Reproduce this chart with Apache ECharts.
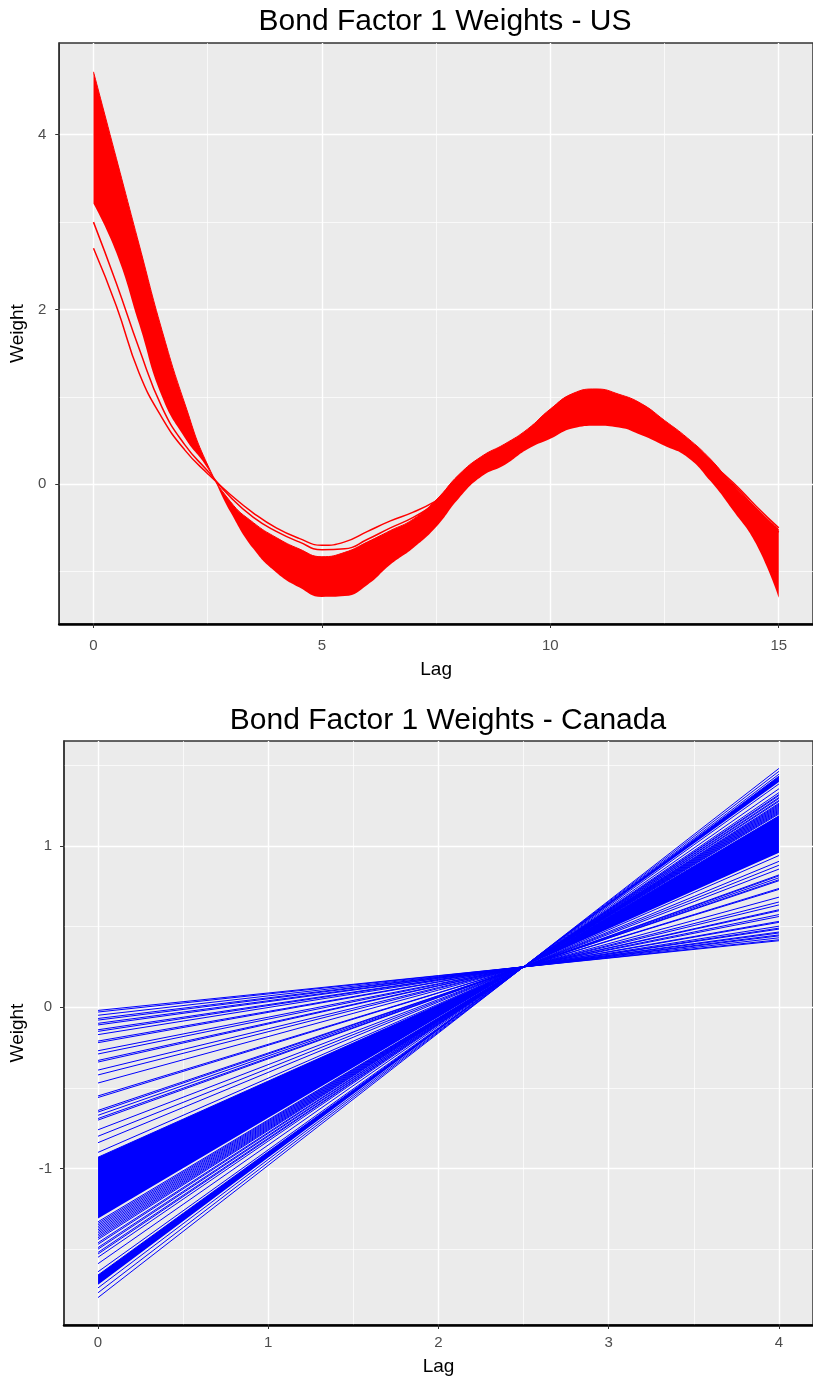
<!DOCTYPE html>
<html>
<head>
<meta charset="utf-8">
<script src="https://cdn.jsdelivr.net/npm/echarts@6/dist/echarts.min.js"></script>
<style>
html, body { margin: 0; padding: 0; background: #fff; }
#chart { width: 813px; height: 1378px; }
</style>
</head>
<body>
<div id="chart"></div>
<script>
// ---- US panel, weights every half lag ----
var usLags = [0, 0.5, 1, 1.5, 2, 2.5, 3, 3.5, 4, 4.5, 5, 5.5, 6, 6.5, 7, 7.5,
              8, 8.5, 9, 9.5, 10, 10.5, 11, 11.5, 12, 12.5, 13, 13.5, 14, 14.5, 15];
// edges of the dense red bundle
var usBandUpper = [4.72, 3.73, 2.74, 1.76, 0.92, 0.22, -0.20, -0.44, -0.61, -0.74, -0.83, -0.78, -0.66, -0.53, -0.40, -0.18,
                   0.11, 0.32, 0.46, 0.63, 0.86, 1.04, 1.09, 1.03, 0.92, 0.73, 0.53, 0.29, -0.01, -0.27, -0.52];
var usBandLower = [3.21, 2.65, 1.83, 1.00, 0.53, 0.18, -0.32, -0.74, -1.01, -1.18, -1.29, -1.28, -1.15, -0.92, -0.73, -0.49,
                   -0.16, 0.09, 0.22, 0.40, 0.52, 0.64, 0.67, 0.65, 0.56, 0.44, 0.31, 0.04, -0.30, -0.68, -1.30];
// the two curves that stand apart from the bundle
var usLineA = [2.70, 2.04, 1.27, 0.76, 0.39, 0.12, -0.12, -0.33, -0.50, -0.62, -0.70, -0.66, -0.54, -0.42, -0.32, -0.19,
               -0.02, 0.18, 0.32, 0.47, 0.60, 0.70, 0.77, 0.76, 0.68, 0.55, 0.42, 0.24, 0.02, -0.25, -0.50];
var usLineB = [3.00, 2.30, 1.55, 0.88, 0.45, 0.15, -0.15, -0.38, -0.54, -0.66, -0.75, -0.74, -0.63, -0.50, -0.38, -0.22,
               -0.05, 0.15, 0.30, 0.45, 0.57, 0.68, 0.74, 0.73, 0.66, 0.53, 0.40, 0.22, 0.00, -0.28, -0.55];
var usXTicks = [0, 5, 10, 15];
var usXMinor = [2.5, 7.5, 12.5];
var usYTicks = [0, 2, 4];
var usYMinor = [-1, 1, 3];

// ---- Canada panel, straight lines from lag 0 to lag 4 ----
var caLineStart = [-0.02, -0.03, -0.05, -0.07, -0.08, -0.10, -0.11, -0.14, -0.15, -0.17, -0.21, -0.22, -0.27, -0.29, -0.33,
                   -0.34, -0.39, -0.42, -0.47, -0.55, -0.56, -0.64, -0.65, -0.67, -0.69, -0.70, -0.76, -0.80, -0.84, -0.90,
                   -1.33, -1.34, -1.35, -1.36, -1.37, -1.38, -1.39, -1.40, -1.41, -1.42, -1.43, -1.44, -1.46, -1.47,
                   -1.49, -1.50, -1.52, -1.53, -1.55, -1.59, -1.64, -1.74, -1.77, -1.80];
var caLineEnd = [0.412, 0.418, 0.430, 0.442, 0.448, 0.460, 0.466, 0.484, 0.490, 0.502, 0.526, 0.532, 0.562, 0.574, 0.598,
                 0.604, 0.634, 0.652, 0.682, 0.730, 0.736, 0.784, 0.790, 0.802, 0.814, 0.820, 0.856, 0.880, 0.904, 0.940,
                 1.198, 1.204, 1.210, 1.216, 1.222, 1.228, 1.234, 1.240, 1.246, 1.252, 1.258, 1.264, 1.276, 1.282,
                 1.294, 1.300, 1.312, 1.318, 1.330, 1.354, 1.384, 1.444, 1.462, 1.480];
// solid blue bundles (edges at lag 0, the crossing and lag 4)
var caBandLags = [0, 2.5, 4];
var caBandALower = [-1.31, 0.25, 0.958];
var caBandAUpper = [-0.93, 0.25, 1.186];
var caBandBLower = [-1.72, 0.25, 1.396];
var caBandBUpper = [-1.66, 0.25, 1.432];
var caXTicks = [0, 1, 2, 3, 4];
var caXMinor = [0.5, 1.5, 2.5, 3.5];
var caYTicks = [-1, 0, 1];
var caYMinor = [-1.5, -0.5, 0.5, 1.5];

var FONT = 'Liberation Sans';

function pairs(xs, ys) {
    return xs.map(function (x, i) { return [x, ys[i]]; });
}

// filled bundle: invisible lower edge + stacked difference.
// weight goes in the first column so that it is the stacked dimension
function band(name, xs, lower, upper, color, idx, smooth) {
    var diff = upper.map(function (u, i) { return u - lower[i]; });
    var flip = function (ys) { return xs.map(function (x, i) { return [ys[i], x]; }); };
    return [
        {
            type: 'line', name: name + '-base', xAxisIndex: idx, yAxisIndex: idx,
            stack: name, stackStrategy: 'all', data: flip(lower), encode: { x: 1, y: 0 },
            symbol: 'none', smooth: smooth, silent: true, lineStyle: { width: 0, opacity: 0 }
        },
        {
            type: 'line', name: name, xAxisIndex: idx, yAxisIndex: idx,
            stack: name, stackStrategy: 'all', data: flip(diff), encode: { x: 1, y: 0 },
            symbol: 'none', smooth: smooth, silent: true, lineStyle: { color: color, width: 1 },
            areaStyle: { color: color, opacity: 1 }
        }
    ];
}

function majorAxis(dim, grid, min, max, ticks, name, gap, margin) {
    return {
        type: 'value', gridIndex: grid, min: min, max: max,
        name: name, nameLocation: 'middle', nameGap: gap,
        nameTextStyle: { color: '#000', fontSize: 19, fontFamily: FONT },
        axisLine: { show: true, onZero: false, lineStyle: { color: dim === 'x' ? '#000' : '#333', width: dim === 'x' ? 2.5 : 1.5 } },
        axisTick: { show: true, length: 4, customValues: ticks, lineStyle: { color: '#333', width: 1 } },
        axisLabel: { customValues: ticks, color: '#4D4D4D', fontSize: 15, fontFamily: FONT, margin: margin },
        splitLine: { show: true, lineStyle: { color: '#FFFFFF', width: 1.4 } }
    };
}

function minorAxis(grid, min, max, ticks) {
    return {
        type: 'value', gridIndex: grid, min: min, max: max,
        axisLine: { show: false },
        axisTick: { show: false, customValues: ticks },
        axisLabel: { show: false },
        splitLine: { show: true, lineStyle: { color: '#FFFFFF', width: 0.7 } }
    };
}

var chart = echarts.init(document.getElementById('chart'));

var series = []
    .concat(band('us', usLags, usBandLower, usBandUpper, '#FF0000', 0, true))
    .concat([usLineA, usLineB].map(function (vals) {
        return {
            type: 'line', xAxisIndex: 0, yAxisIndex: 0, data: pairs(usLags, vals),
            symbol: 'none', smooth: true, silent: true,
            lineStyle: { color: '#FF0000', width: 1.5 }
        };
    }))
    .concat(band('caA', caBandLags, caBandALower, caBandAUpper, '#0000FF', 2, false))
    .concat(band('caB', caBandLags, caBandBLower, caBandBUpper, '#0000FF', 2, false))
    .concat(caLineStart.map(function (a, i) {
        return {
            type: 'line', xAxisIndex: 2, yAxisIndex: 2, data: [[0, a], [4, caLineEnd[i]]],
            symbol: 'none', silent: true, lineStyle: { color: '#0000FF', width: 1 }
        };
    }));

var option = {
    animation: false,
    backgroundColor: '#FFFFFF',
    title: [
        {
            text: 'Bond Factor 1 Weights - US', left: 440, top: 2, textAlign: 'center',
            textStyle: { color: '#000', fontSize: 30, fontWeight: 'normal', fontFamily: FONT }
        },
        {
            text: 'Bond Factor 1 Weights - Canada', left: 443, top: 701, textAlign: 'center',
            textStyle: { color: '#000', fontSize: 30, fontWeight: 'normal', fontFamily: FONT }
        }
    ],
    grid: [
        { left: 58, top: 43, width: 765, height: 581, show: true, backgroundColor: '#EBEBEB', borderColor: '#333', borderWidth: 1.5 },
        { left: 64, top: 741, width: 758, height: 584, show: true, backgroundColor: '#EBEBEB', borderColor: '#333', borderWidth: 1.5 }
    ],
    xAxis: [
        majorAxis('x', 0, -0.75, 15.75, usXTicks, 'Lag', 36, 14),
        minorAxis(0, -0.75, 15.75, usXMinor),
        majorAxis('x', 1, -0.2, 4.2, caXTicks, 'Lag', 32, 10),
        minorAxis(1, -0.2, 4.2, caXMinor)
    ],
    yAxis: [
        majorAxis('y', 0, -1.6, 5.05, usYTicks, 'Weight', 18, 13),
        minorAxis(0, -1.6, 5.05, usYMinor),
        majorAxis('y', 1, -1.97, 1.65, caYTicks, 'Weight', 25, 12),
        minorAxis(1, -1.97, 1.65, caYMinor)
    ],
    series: series
};

chart.setOption(option);
</script>
</body>
</html>
